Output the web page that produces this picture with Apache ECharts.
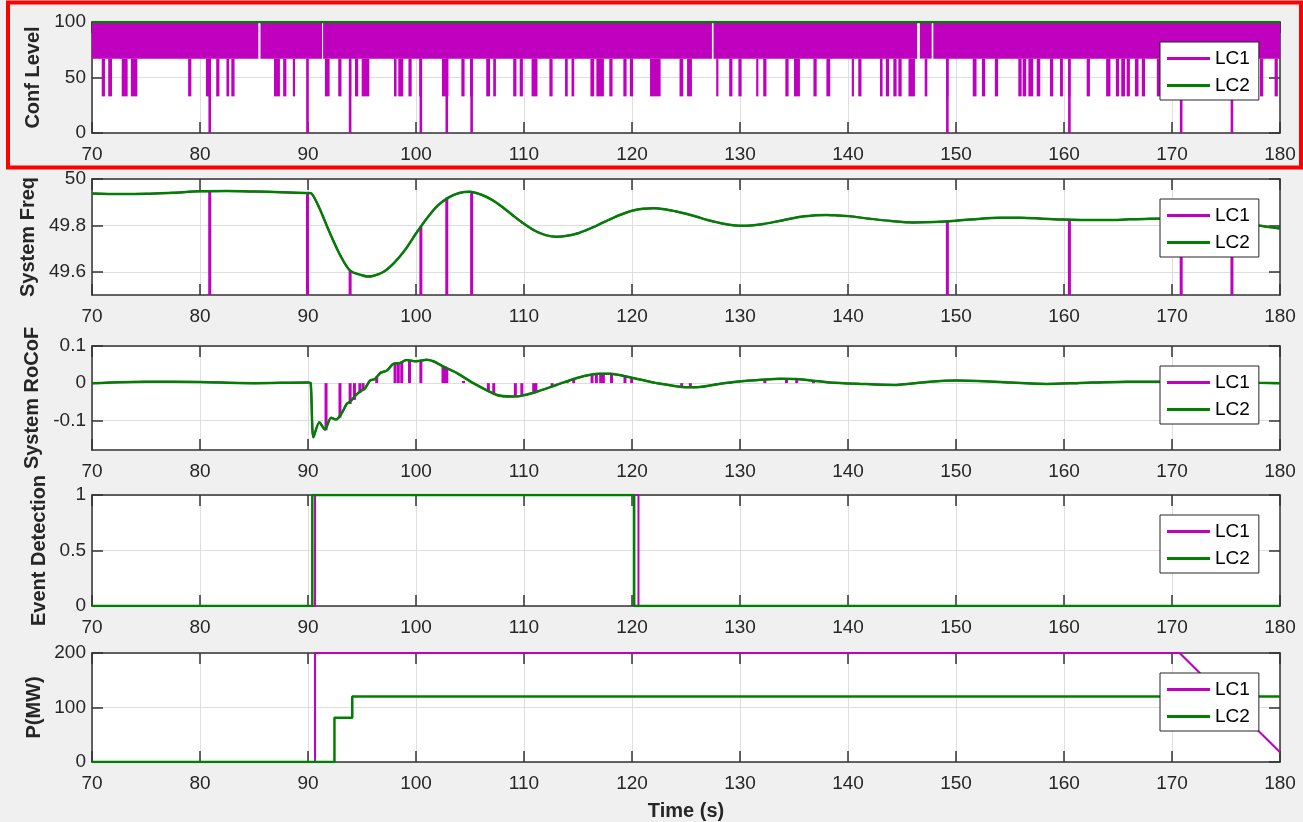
<!DOCTYPE html>
<html lang="en">
<head>
<meta charset="utf-8">
<script src="https://cdn.jsdelivr.net/npm/echarts@6/dist/echarts.min.js"></script>
<title>LC response</title>
<style>
    html, body, #main {
        width: 100%;
        height: 100%;
        margin: 0;
        background: #f0f0f0;
    }
</style>
</head>
<body>
<div id="main"></div>
<script>
    // ---- data ----
    var timeMin = 70, timeMax = 180, timeStep = 10;

    // Conf Level: LC1 flickers 67..100 inside these spans, dips to 33 / 0
    var bandStart = [70, 85.6, 91.4, 127.55, 146.65, 147.9];
    var bandEnd = [85.4, 91.3, 127.4, 146.4, 147.75, 180];
    var dip33Start = [70.9, 71.5, 72.75, 73.6, 78.9, 80.55, 81.5, 82.45, 82.9, 86.85, 87.7, 88.6, 91.57, 92.8, 93.8, 94.35, 94.97, 97.96, 98.36, 99.3,
        100.3, 102.4, 104.2, 105.0, 106.5, 107.15, 109.0, 109.6, 110.7, 112.35, 113.8, 114.4, 116.15, 116.7, 117.9, 119.2, 119.8, 121.67, 124.4, 125.1,
        127.8, 129.0, 129.85, 131.5, 132.15, 134.2, 135.0, 136.8, 138.0, 140.35, 140.95, 142.96, 143.5, 144.2, 144.66, 145.6, 147.1, 149.1, 151.55, 152.4,
        153.6, 155.77, 156.17, 156.7, 157.47, 158.7, 159.63, 160.4, 162.1, 163.9, 164.8, 165.3, 165.8, 166.57, 167.2, 168.6, 170.7, 175.4, 178.15, 179.5];
    var dip33End = [71.2, 71.85, 73.3, 74.2, 79.2, 81.0, 81.8, 82.7, 83.2, 87.4, 88.0, 88.8, 92.0, 93.1, 94.0, 94.65, 95.68, 98.2, 98.82, 99.6,
        100.5, 103.0, 104.5, 105.25, 106.85, 107.4, 109.3, 109.9, 111.25, 112.65, 114.05, 114.65, 116.5, 117.4, 118.2, 119.5, 120.1, 122.65, 124.75, 125.55,
        128.0, 129.3, 130.15, 131.7, 132.45, 134.5, 135.55, 137.1, 138.35, 140.55, 141.25, 143.2, 143.8, 144.5, 144.97, 146.2, 147.35, 149.3, 151.9, 152.7,
        153.9, 156.08, 156.5, 157.15, 157.8, 159.0, 159.9, 160.6, 162.4, 164.3, 165.1, 165.65, 166.1, 166.9, 167.5, 168.9, 170.95, 175.65, 178.45, 179.8];
    var dropoutT = [80.9, 89.95, 93.9, 100.45, 102.85, 105.15, 149.2, 160.5, 170.85, 175.55];
    var confLC2T = [70, 180];
    var confLC2 = [100, 100];
    var confTicks = [0, 50, 100];

    // System frequency (Hz)
    var freqT = [70, 72.5, 75, 77.5, 80, 82.5, 85, 87.5, 90, 90.3,
        91, 92, 93, 93.9, 95, 95.5, 96, 97, 98, 99,
        100, 101, 102, 103, 104, 105, 106, 107, 108, 109, 110, 111, 112, 113, 114, 115, 116, 117, 118, 119,
        120, 121, 122, 123, 124, 125, 126, 127, 128, 129, 130, 131, 132, 133, 134, 135, 136, 137, 138, 139, 140,
        142, 144, 146, 148, 150, 152, 154, 156, 158, 160, 162, 164, 166, 168, 170, 172, 174, 176, 178, 180];
    var freq = [49.938, 49.935, 49.936, 49.941, 49.947, 49.948, 49.946, 49.943, 49.940, 49.938,
        49.88, 49.77, 49.67, 49.605, 49.585, 49.58, 49.582, 49.60, 49.64, 49.695,
        49.765, 49.83, 49.885, 49.92, 49.94, 49.945, 49.933, 49.911, 49.879, 49.842, 49.807, 49.777, 49.758, 49.751, 49.755, 49.766, 49.784, 49.805, 49.827, 49.847,
        49.863, 49.872, 49.874, 49.870, 49.861, 49.85, 49.837, 49.823, 49.812, 49.803, 49.799, 49.800, 49.805, 49.813, 49.822, 49.832, 49.839, 49.844, 49.845, 49.843, 49.84,
        49.829, 49.819, 49.813, 49.815, 49.82, 49.828, 49.833, 49.833, 49.829, 49.825, 49.823, 49.823, 49.826, 49.829, 49.83, 49.829, 49.825, 49.816, 49.8, 49.787];
    var freqDropTop = [49.947, 49.94, 49.605, 49.795, 49.92, 49.944, 49.819, 49.825, 49.83, 49.818];
    var freqTicks = [49.6, 49.8, 50];

    // System RoCoF (Hz/s)
    var rocofT = [70, 75, 80, 85, 90, 90.25, 90.5, 91.05, 91.57, 92.13,
        92.6, 93.2, 93.58, 93.9, 94.44, 94.8, 95.28, 95.74, 96.2, 96.67,
        97.3, 97.9, 98.5, 99.1, 100.05, 100.98, 101.6, 102.2, 102.8, 103.8,
        105.3, 107.5, 108.9, 109.6, 111.2, 113, 114.9, 117, 118, 119.8,
        122.3, 125, 126, 128.5, 130.9, 133.7, 135.2, 138.3, 141.2, 144.2,
        147.3, 150.1, 152, 155, 158.4, 161.2, 165.8, 169, 172, 175, 178, 180];
    var rocof = [0, 0.004, 0.003, 0, 0.002, 0, -0.146, -0.105, -0.125, -0.093,
        -0.098, -0.077, -0.056, -0.05, -0.032, -0.023, -0.014, 0.007, 0.011, 0.027,
        0.034, 0.052, 0.054, 0.062, 0.059, 0.063, 0.059, 0.05, 0.041, 0.027,
        0, -0.032, -0.036, -0.035, -0.023, -0.005, 0.014, 0.025, 0.025, 0.016,
        0, -0.011, -0.011, 0, 0.007, 0.012, 0.011, 0.002, -0.002, -0.005,
        0.003, 0.007, 0.006, 0.0015, -0.002, 0, 0.004, 0.004, 0.004, 0.003, 0.001, 0];
    var rocofDropT = [91.67, 92.96, 93.9, 94.3, 94.8, 95.1, 96.36, 98.06, 98.36, 98.68, 99.4, 100.45, 102.5, 102.7, 102.85, 104.4,
        106.7, 107.2, 109.2, 109.8, 110.9, 111.1, 112.6, 114.0, 114.6, 116.3, 116.7, 117.1, 117.35, 118.1, 119.35, 119.97,
        124.6, 125.4, 127.8, 129.1, 132.3, 134.3, 135.25, 136.8, 140.5, 141];
    var rocofDropV = [-0.127, -0.093, -0.056, -0.045, -0.027, -0.02, 0.018, 0.052, 0.053, 0.055, 0.06, 0.06, 0.045, 0.045, 0.041, 0.006,
        -0.024, -0.03, -0.036, -0.035, -0.028, -0.026, -0.009, 0.006, 0.01, 0.021, 0.024, 0.025, 0.025, 0.024, 0.018, 0.015,
        -0.01, -0.011, -0.005, -0.002, 0.01, 0.012, 0.011, 0.008, -0.001, -0.002];
    var rocofTicks = [-0.1, 0, 0.1];

    // Event detection flags
    var ev1T = [70, 90.65, 90.65, 120.6, 120.6, 180];
    var ev1 = [0, 0, 1, 1, 0, 0];
    var ev2T = [70, 90.4, 90.4, 120.2, 120.2, 180];
    var ev2 = [0, 0, 1, 1, 0, 0];
    var eventTicks = [0, 0.5, 1];

    // Power (MW)
    var p1T = [70, 90.65, 90.65, 170.7, 180];
    var p1 = [0, 0, 200, 200, 18];
    var p2T = [70, 92.45, 92.45, 94.1, 94.1, 180];
    var p2 = [0, 0, 81, 81, 120, 120];
    var powerTicks = [0, 100, 200];

    // ---- layout / style ----
    var MAG = '#bf00bf', GRN = '#008000', AX = '#333333', GRIDC = '#dedede', TXT = '#262626';
    var FONT = '"Liberation Sans", Arial, Helvetica, sans-serif';
    var panelTop = [22, 179, 346, 495, 653];
    var panelH = [111, 116, 104, 111, 109];
    var yNames = ['Conf Level', 'System Freq', 'System RoCoF', 'Event Detection', 'P(MW)'];
    var yMin = [0, 49.5, -0.18, 0, 0];
    var yMax = [100, 50, 0.1, 1, 200];
    var yTicks = [confTicks, freqTicks, rocofTicks, eventTicks, powerTicks];
    var yNameGap = [49, 54, 50, 43, 48];

    function pairs(t, v) {
        return t.map(function (x, i) { return [x, v[i]]; });
    }

    var confRects = [];
    bandStart.forEach(function (s, i) { confRects.push([s, bandEnd[i], 67, 100]); });
    dip33Start.forEach(function (s, i) { confRects.push([s, dip33End[i], 33, 67]); });
    dropoutT.forEach(function (t) { confRects.push([t - 0.12, t + 0.12, 0, 67]); });

    function renderRect(params, api) {
        var a = api.coord([api.value(0), api.value(3)]);
        var b = api.coord([api.value(1), api.value(2)]);
        return {
            type: 'rect',
            shape: {x: a[0], y: a[1], width: Math.max(b[0] - a[0], 2), height: b[1] - a[1]},
            style: {fill: MAG}
        };
    }

    var grids = [], xAxes = [], yAxes = [], legends = [];
    var lineAxis = {onZero: false, lineStyle: {color: AX, width: 1.5}};
    var tickStyle = {color: AX, width: 1.5};
    for (var i = 0; i < 5; i++) {
        grids.push({left: 92, right: 23, top: panelTop[i], height: panelH[i], show: true,
            backgroundColor: '#fff', borderWidth: 0, outerBoundsMode: 'none'});
        xAxes.push({
            type: 'value', gridIndex: i, min: timeMin, max: timeMax, interval: timeStep, position: 'bottom',
            axisLine: lineAxis,
            axisTick: {inside: true, length: 11, lineStyle: tickStyle},
            axisLabel: {fontSize: 19, color: TXT, margin: 12, fontFamily: FONT},
            splitLine: {show: true, lineStyle: {color: GRIDC, width: 1}},
            name: i === 4 ? 'Time (s)' : '', nameLocation: 'middle', nameGap: 39, nameMoveOverlap: false,
            nameTextStyle: {fontWeight: 'bold', fontSize: 20, color: TXT, fontFamily: FONT}
        });
        xAxes.push({
            type: 'value', gridIndex: i, min: timeMin, max: timeMax, interval: timeStep, position: 'top',
            axisLine: lineAxis,
            axisTick: {inside: true, length: 11, lineStyle: tickStyle},
            axisLabel: {show: false}, splitLine: {show: false}
        });
        yAxes.push({
            type: 'value', gridIndex: i, min: yMin[i], max: yMax[i], position: 'left',
            axisLine: {show: true, onZero: false, lineStyle: {color: AX, width: 1.5}},
            axisTick: {show: true, inside: true, length: 11, lineStyle: tickStyle, customValues: yTicks[i]},
            axisLabel: {fontSize: 19, color: TXT, margin: 6, fontFamily: FONT, customValues: yTicks[i]},
            splitLine: {show: true, lineStyle: {color: GRIDC, width: 1}},
            name: yNames[i], nameLocation: 'middle', nameGap: yNameGap[i], nameMoveOverlap: false,
            nameTextStyle: {fontWeight: 'bold', fontSize: 20, color: TXT, fontFamily: FONT}
        });
        yAxes.push({
            type: 'value', gridIndex: i, min: yMin[i], max: yMax[i], position: 'right',
            axisLine: {show: true, onZero: false, lineStyle: {color: AX, width: 1.5}},
            axisTick: {show: true, inside: true, length: 11, lineStyle: tickStyle, customValues: yTicks[i]},
            axisLabel: {show: false}, splitLine: {show: false}
        });
        legends.push({
            left: 1160, top: panelTop[i] + 20, orient: 'vertical', data: ['LC1', 'LC2'],
            icon: 'rect', itemWidth: 43, itemHeight: 3, itemGap: 8, padding: [7, 9, 5, 7],
            borderColor: '#262626', borderWidth: 1, backgroundColor: '#fff', selectedMode: false,
            textStyle: {fontSize: 19, color: '#000', fontFamily: FONT}
        });
    }

    function line(name, idx, data, color, width, smooth) {
        return {
            name: name, type: 'line', xAxisIndex: 2 * idx, yAxisIndex: 2 * idx, data: data,
            symbol: 'none', smooth: smooth || false, clip: true, color: color,
            lineStyle: {color: color, width: width}
        };
    }

    var series = [
        line('LC1', 1, pairs(freqT, freq), MAG, 2, 0.3),
        {name: 'LC1', type: 'bar', xAxisIndex: 2, yAxisIndex: 2, data: pairs(dropoutT, freqDropTop),
            barWidth: 3, clip: true, color: MAG, itemStyle: {color: MAG}},
        line('LC2', 1, pairs(freqT, freq), GRN, 2.5, 0.3),

        {name: 'LC1', type: 'custom', xAxisIndex: 0, yAxisIndex: 0, data: confRects,
            encode: {x: [0, 1], y: [2, 3]}, renderItem: renderRect, clip: true, color: MAG},
        line('LC2', 0, pairs(confLC2T, confLC2), GRN, 2.5),

        line('LC1', 2, pairs(rocofT, rocof), MAG, 2, 0.25),
        {name: 'LC1', type: 'bar', xAxisIndex: 4, yAxisIndex: 4, data: pairs(rocofDropT, rocofDropV),
            barWidth: 3, clip: true, color: MAG, itemStyle: {color: MAG}},
        line('LC2', 2, pairs(rocofT, rocof), GRN, 2.5, 0.25),

        line('LC1', 3, pairs(ev1T, ev1), MAG, 2),
        line('LC2', 3, pairs(ev2T, ev2), GRN, 2.5),

        line('LC1', 4, pairs(p1T, p1), MAG, 2),
        line('LC2', 4, pairs(p2T, p2), GRN, 2.5)
    ];

    var chart = echarts.init(document.getElementById('main'));
    chart.setOption({
        animation: false,
        backgroundColor: '#f0f0f0',
        textStyle: {fontFamily: FONT},
        grid: grids,
        xAxis: xAxes,
        yAxis: yAxes,
        legend: legends,
        graphic: [{
            type: 'rect', z: 100, silent: true,
            shape: {x: 8, y: 2.5, width: 1293, height: 165},
            style: {fill: 'none', stroke: '#ff0000', lineWidth: 4}
        }],
        series: series
    });
    window.onresize = chart.resize;
</script>
</body>
</html>
